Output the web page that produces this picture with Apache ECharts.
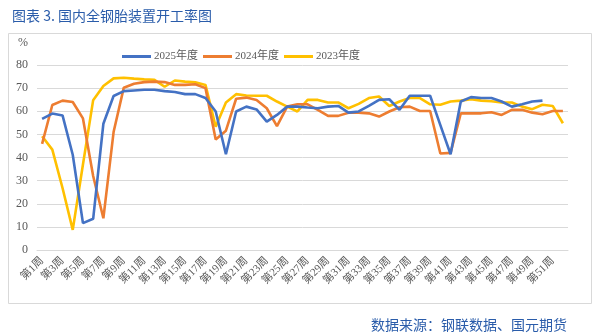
<!DOCTYPE html>
<html>
<head>
<meta charset="utf-8">
<script src="https://cdn.jsdelivr.net/npm/echarts@6/dist/echarts.min.js"></script>
<style>
html,body{margin:0;padding:0;background:#fff;}
#main{width:601px;height:334px;}
</style>
</head>
<body>
<div id="main"></div>
<script>
var weeks = [];
for (var i = 1; i <= 52; i++) weeks.push('第' + i + '周');

var y2025 = [56.7, 59, 58.2, 41.2, 11.6, 13.5, 54.6, 66.6, 68.7, 69, 69.3, 69.3, 68.7, 68.3, 67.4, 67.4, 65.7, 59.9, 41.4, 59.9,
  62, 60.8, 55.5, 58.4, 62, 62, 61.6, 61.3, 62, 62.3, 59.4, 59.9, 62.3, 64.9, 65.2, 60.6, 66.7, 66.7, 66.7, 54,
  41.4, 64.2, 66.1, 65.7, 65.7, 64.2, 62, 63, 64.2, 64.6];
var y2024 = [45.9, 62.7, 64.6, 64, 56.9, 32, 13.7, 51, 70.2, 71.9, 72.6, 72.8, 72.6, 71.4, 71.4, 71.7, 70, 47.8, 51.6, 65.4,
  65.9, 64.9, 61.3, 53.6, 62, 63, 63, 60.6, 58, 58, 59.4, 59.4, 59.1, 57.7, 59.9, 61.7, 62, 60.1, 60.1, 41.7,
  42, 59.1, 59.1, 59.1, 59.6, 58.4, 60.6, 60.6, 59.4, 58.7, 60.1, 60.1];
var y2023 = [49.2, 43.4, 26.8, 8.7, 37, 64.8, 70.9, 74.2, 74.5, 74.1, 73.8, 73.6, 70.6, 73.3, 72.8, 72.5, 71.4, 53.3, 63.8, 67.4,
  66.8, 66.7, 66.7, 64.2, 62, 59.9, 64.9, 64.9, 63.8, 63.8, 61.3, 63.2, 65.7, 66.4, 62.3, 64.2, 65.7, 65.7, 63, 62.8,
  64.2, 64.6, 65.2, 64.6, 64.3, 63.8, 63.8, 62, 60.9, 62.8, 62.3, 54.8];
var seriesNames = ['2025年度', '2024年度', '2023年度'];
var colors = ['#4472C4', '#ED7D31', '#FFC000'];

var chart = echarts.init(document.getElementById('main'), null, {renderer: 'canvas'});
var serifFont = '"Liberation Serif", "Times New Roman", "Noto Sans CJK SC", serif';
var lineSeries = [y2025, y2024, y2023].map(function (d, k) {
  return {
    name: seriesNames[k],
    type: 'line',
    data: d,
    symbol: 'none',
    smooth: false,
    lineStyle: {width: 2.6, color: colors[k]},
    itemStyle: {color: colors[k]},
    z: 3 - k
  };
});

chart.setOption({
  animation: false,
  backgroundColor: '#fff',
  title: [{
    text: '图表 3. 国内全钢胎装置开工率图',
    left: 7, top: 4,
    textStyle: {fontSize: 14, fontWeight: 'normal', color: '#2a5caa', fontFamily: '"Noto Sans CJK SC", sans-serif'}
  }, {
    text: '数据来源：钢联数据、国元期货',
    left: 366, top: 313,
    textStyle: {fontSize: 14, fontWeight: 'normal', color: '#2a5caa', fontFamily: '"Noto Sans CJK SC", sans-serif'}
  }],
  graphic: [{
    type: 'rect',
    shape: {x: 8.5, y: 33.5, width: 583, height: 270},
    style: {fill: 'none', stroke: '#d9d9d9', lineWidth: 1},
    silent: true
  }],
  legend: {
    data: seriesNames,
    left: 117, top: 46,
    itemWidth: 29, itemHeight: 3,
    itemGap: 5,
    icon: 'rect',
    textStyle: {fontSize: 11, color: '#595959', fontFamily: serifFont, padding: [0, 0, 0, -2]}
  },
  grid: {left: 37, right: 33, top: 65, bottom: 84, containLabel: false},
  xAxis: {
    type: 'category',
    data: weeks,
    boundaryGap: true,
    axisLine: {show: true, lineStyle: {color: '#d9d9d9'}},
    axisTick: {show: false},
    axisLabel: {interval: 1, rotate: 45, fontSize: 11, color: '#595959', margin: 9, fontFamily: serifFont}
  },
  yAxis: {
    type: 'value',
    min: 0, max: 80, interval: 10,
    name: '%',
    nameLocation: 'end',
    nameGap: 16,
    nameTextStyle: {align: 'right', color: '#595959', fontSize: 12, fontFamily: serifFont, padding: [0, 9, 0, 0]},
    axisLine: {show: false},
    axisTick: {show: false},
    axisLabel: {fontSize: 12, color: '#595959', margin: 9, fontFamily: serifFont},
    splitLine: {lineStyle: {color: '#d9d9d9', width: 1}}
  },
  series: lineSeries
});
</script>
</body>
</html>
